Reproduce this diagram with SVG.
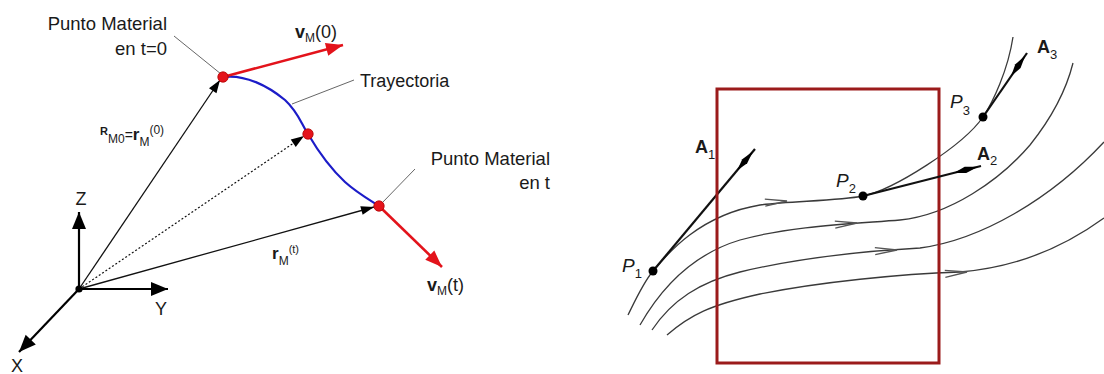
<svg xmlns="http://www.w3.org/2000/svg" width="1104" height="374" viewBox="0 0 1104 374">
<style>
text{font-family:"Liberation Sans",Arial,sans-serif;fill:#1a1a1a}
.lbl{font-size:18.5px}
.lead{stroke:#555;stroke-width:0.9;fill:none}
.vec{stroke:#111;stroke-width:1.3;fill:none;marker-end:url(#ah)}
.axis{stroke:#000;stroke-width:2.2;fill:none;marker-end:url(#axh)}
.red{stroke:#e3131b;stroke-width:2.6;fill:none;marker-end:url(#rh)}
.dot{fill:#e5141c;stroke:#b00000;stroke-width:0.8}
.sl{stroke:#3a3a3a;stroke-width:1.3;fill:none}
.chev{stroke:#555;stroke-width:1.3;fill:none}
.av{stroke:#111;stroke-width:2.2;fill:none;marker-end:url(#harp)}
.pt{fill:#000}
.bx{fill:none;stroke:#9b1b1b;stroke-width:3}
.P{font-style:italic;font-size:19px}
.A{font-weight:bold;font-size:18px}
.sub{font-size:13px}
</style>
<defs>
<marker id="ah" markerUnits="userSpaceOnUse" viewBox="-14 -6 14 12" refX="0" refY="0" markerWidth="14" markerHeight="12" orient="auto"><path d="M0,0 L-13,-4.5 L-13,4.5 z" fill="#000"/></marker>
<marker id="axh" markerUnits="userSpaceOnUse" viewBox="-18 -8 18 16" refX="0" refY="0" markerWidth="18" markerHeight="16" orient="auto"><path d="M0,0 L-17,-7 L-17,7 z" fill="#000"/></marker>
<marker id="rh" markerUnits="userSpaceOnUse" viewBox="-18 -8 18 16" refX="0" refY="0" markerWidth="18" markerHeight="16" orient="auto"><path d="M0,0 L-17,-6.5 L-17,6.5 z" fill="#e3131b"/></marker>
<marker id="harp" markerUnits="userSpaceOnUse" viewBox="-32 -5 32 10" refX="0" refY="0" markerWidth="32" markerHeight="10" orient="auto"><path d="M-3,0 L-16,-3.2 L-28,0 L-16,3.2 z" fill="#000"/></marker>
</defs>

<!-- LEFT DIAGRAM -->
<g id="connectors-left">
  <path class="vec" d="M79,289 L220,80"/>
  <path d="M79,289 L304,136" stroke="#111" stroke-width="1.2" stroke-dasharray="2 2" fill="none" marker-end="url(#ah)"/>
  <path class="vec" d="M79,289 L374,207"/>
  <path class="lead" d="M174,36 L221,74"/>
  <path class="lead" d="M292,104 L354,80"/>
  <path class="lead" d="M415,169 L382,203"/>
</g>
<g id="trayectoria">
  <path d="M223,77 C245,74 268,86 285,100 C298,112 301,123 308,134 C318,151 330,168 345,182 C356,192 368,199 379,206" stroke="#1c1cc8" stroke-width="2.2" fill="none"/>
</g>
<g id="axes">
  <path class="axis" d="M79,289 L79,212"/>
  <path class="axis" d="M79,289 L168,289"/>
  <path class="axis" d="M79,289 L19,352"/>
  <circle cx="79" cy="289" r="3.6" fill="#000"/>
  <text x="81" y="205" text-anchor="middle" font-size="18">Z</text>
  <text x="161" y="315" text-anchor="middle" font-size="18">Y</text>
  <text x="17" y="372" text-anchor="middle" font-size="18">X</text>
</g>
<g id="vel0">
  <path class="red" d="M223,77 L343,45"/>
  <text x="295" y="38"><tspan font-weight="bold" font-size="18">v</tspan><tspan font-size="12" dy="4">M</tspan><tspan font-size="18" dy="-4">(0)</tspan></text>
</g>
<g id="velt">
  <path class="red" d="M379,206 L442,267"/>
  <text x="427" y="291"><tspan font-weight="bold" font-size="18">v</tspan><tspan font-size="12" dy="4">M</tspan><tspan font-size="18" dy="-4">(t)</tspan></text>
</g>
<g id="punto0">
  <circle class="dot" cx="223" cy="77" r="5.2"/>
  <text class="lbl" x="167" y="30" text-anchor="end">Punto Material</text>
  <text class="lbl" x="167" y="55" text-anchor="end">en t=0</text>
</g>
<g id="punto-mid">
  <circle class="dot" cx="308" cy="134" r="5.2"/>
</g>
<g id="puntot">
  <circle class="dot" cx="379" cy="206" r="5.2"/>
  <text class="lbl" x="550" y="165" text-anchor="end">Punto Material</text>
  <text class="lbl" x="550" y="189" text-anchor="end">en t</text>
</g>
<g id="label-tray">
  <text x="360" y="87" font-size="18">Trayectoria</text>
</g>
<g id="label-r0">
  <text x="100" y="135"><tspan font-size="11" font-weight="bold">R</tspan><tspan font-size="12" dy="8">M0</tspan><tspan font-size="14" dy="-3">=</tspan><tspan font-size="17" font-weight="bold">r</tspan><tspan font-size="12" dy="6">M</tspan><tspan font-size="12" dy="-12">(0)</tspan></text>
</g>
<g id="label-rt">
  <text x="272" y="259"><tspan font-size="17" font-weight="bold">r</tspan><tspan font-size="12" dy="6">M</tspan><tspan font-size="11" dy="-12">(t)</tspan></text>
</g>

<!-- RIGHT DIAGRAM -->
<g id="streamlines">
  <path class="sl" d="M628,315 C634,303 643,283 653,271 C668,253 700,215 760,205 C790,201 838,201 863,196 C893,190 963,146 983,117 C993,102 1008,70 1013,37"/>
  <path class="sl" d="M640,325 C660,290 690,255 740,240 C790,226 850,224 900,220 C950,215 1000,180 1030,145 C1050,120 1065,95 1073,63"/>
  <path class="sl" d="M652,330 C672,300 700,282 740,272 C790,260 850,252 920,248 C980,240 1050,200 1104,142"/>
  <path class="sl" d="M667,335 C690,315 710,305 760,294 C820,282 900,274 960,272 C1010,268 1060,250 1104,218"/>
  <path class="chev" d="M-22,-3.5 L0,0 L-22,3.5" transform="translate(787,201) rotate(-4)"/>
  <path class="chev" d="M-22,-3.5 L0,0 L-22,3.5" transform="translate(857,223) rotate(-4)"/>
  <path class="chev" d="M-22,-3.5 L0,0 L-22,3.5" transform="translate(897,250) rotate(-3)"/>
  <path class="chev" d="M-22,-3.5 L0,0 L-22,3.5" transform="translate(967,272) rotate(-5)"/>
</g>
<g id="A1">
  <path class="av" d="M653,271 L755,149"/>
  <text class="A" x="695" y="153">A<tspan class="sub" font-weight="normal" dy="6">1</tspan></text>
</g>
<g id="box">
  <rect class="bx" x="717" y="89" width="222" height="274"/>
</g>
<g id="P1">
  <circle class="pt" cx="653" cy="271" r="4.5"/>
  <text class="P" x="622" y="272">P<tspan class="sub" font-style="normal" dy="6">1</tspan></text>
</g>
<g id="P2">
  <path class="av" d="M863,196 L981,166"/>
  <circle class="pt" cx="863" cy="196" r="4.5"/>
  <text class="P" x="836" y="187">P<tspan class="sub" font-style="normal" dy="6">2</tspan></text>
  <text class="A" x="977" y="160">A<tspan class="sub" font-weight="normal" font-size="15" dy="5">2</tspan></text>
</g>
<g id="P3">
  <path class="av" d="M983,117 L1027,53"/>
  <circle class="pt" cx="983" cy="117" r="4.5"/>
  <text class="P" x="950" y="108">P<tspan class="sub" font-style="normal" dy="7">3</tspan></text>
  <text class="A" x="1037" y="53">A<tspan class="sub" font-weight="normal" font-size="15" dy="6">3</tspan></text>
</g>
</svg>
